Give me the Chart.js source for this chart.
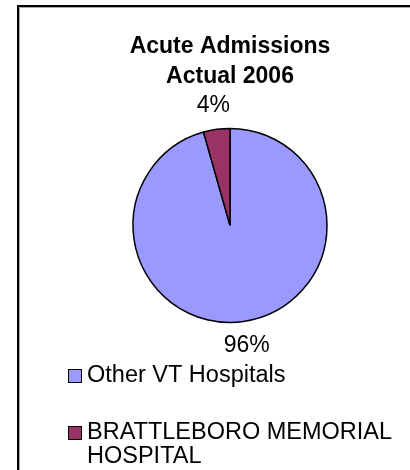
<!DOCTYPE html>
<html>
<head>
<meta charset="utf-8">
<script src="https://cdn.jsdelivr.net/npm/chart.js@4.4.0/dist/chart.umd.min.js"></script>
<style>
  html, body { margin: 0; padding: 0; background: #fff; overflow: hidden; }
  #marco { position: absolute; left: 17px; top: 5px; width: 400px; height: 470px;
           border-top: 2px solid #000; border-left: 2px solid #000;
           box-shadow: inset 1px 1px 0 #aaa; }
  #caja { position: absolute; left: 0; top: 0; width: 410px; height: 470px; }
</style>
</head>
<body>
<div id="marco"></div>
<div id="caja"><canvas id="myChart" width="410" height="470"></canvas></div>
<script>
const categorias = ['Other VT Hospitals', 'BRATTLEBORO MEMORIAL HOSPITAL'];
// como sale en la leyenda (Excel parte la linea)
const textoLeyenda = [['Other VT Hospitals'], ['BRATTLEBORO MEMORIAL', 'HOSPITAL']];
const valores = [95.6, 4.4];
const colores = ['#9999ff', '#993366'];
const titulo = ['Acute Admissions', 'Actual 2006'];

const fuente = '"Liberation Sans", Arial, sans-serif';

// porcentajes fuera de la torta
const etiquetasPorcentaje = {
  id: 'etiquetasPorcentaje',
  afterDatasetsDraw(chart) {
    const ctx = chart.ctx;
    const meta = chart.getDatasetMeta(0);
    const total = valores.reduce((a, b) => a + b, 0);
    ctx.save();
    ctx.font = '23px ' + fuente;
    ctx.fillStyle = '#000';
    ctx.textAlign = 'center';
    ctx.textBaseline = 'middle';
    meta.data.forEach((arc, i) => {
      const p = arc.getProps(['x', 'y', 'startAngle', 'endAngle', 'outerRadius']);
      const medio = (p.startAngle + p.endAngle) / 2;
      const r = p.outerRadius + 24;
      ctx.fillText(Math.round(valores[i] / total * 100) + '%',
        p.x + Math.cos(medio) * r, p.y + Math.sin(medio) * r);
    });
    ctx.restore();
  }
};

// leyenda tipo Excel: alineada a la izquierda, con renglon en blanco entre items
const leyenda = {
  id: 'leyenda',
  afterDraw(chart) {
    const ctx = chart.ctx;
    const ds = chart.data.datasets[0];
    let y = chart.chartArea.bottom + 46;
    ctx.save();
    ctx.font = '23.5px ' + fuente;
    ctx.textAlign = 'left';
    ctx.textBaseline = 'middle';
    chart.data.labels.forEach((lab, i) => {
      ctx.fillStyle = ds.backgroundColor[i];
      ctx.fillRect(68.5, y - 6.5, 13, 13);
      ctx.strokeStyle = '#000';
      ctx.lineWidth = 1;
      ctx.strokeRect(68.5, y - 6.5, 13, 13);
      ctx.fillStyle = '#000';
      textoLeyenda[i].forEach((t, k) => ctx.fillText(t, 87, y + k * 24));
      y += 57;
    });
    ctx.restore();
  }
};

const data = {
  labels: categorias,
  datasets: [{
    data: valores,
    backgroundColor: colores,
    borderColor: '#000',
    borderWidth: 1.5,
    radius: 97
  }]
};

const config = {
  type: 'pie',
  data: data,
  options: {
    responsive: false,
    animation: false,
    layout: { padding: { left: 50, right: 0, top: 0, bottom: 140 } },
    plugins: {
      title: {
        display: true,
        text: titulo,
        color: '#000',
        font: { family: fuente, size: 23, weight: 'bold', lineHeight: 1.3 },
        padding: { top: 32, bottom: 29 }
      },
      legend: { display: false },
      tooltip: { enabled: false }
    }
  },
  plugins: [etiquetasPorcentaje, leyenda]
};

const myChart = new Chart(document.getElementById('myChart'), config);
</script>
</body>
</html>
